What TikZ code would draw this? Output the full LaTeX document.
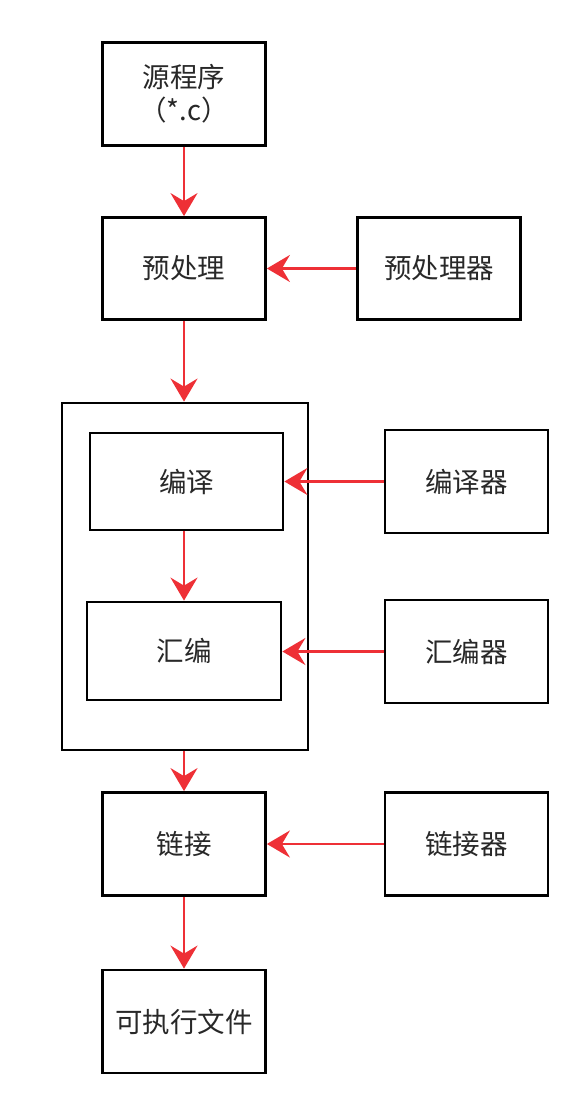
\documentclass[tikz,border=0pt]{standalone}
\usepackage{fontspec}
\setmainfont{Noto Sans CJK SC}
\usetikzlibrary{arrows.meta}
\definecolor{arrred}{RGB}{238,48,54}
\definecolor{txt}{RGB}{40,40,40}
\begin{document}
\begin{tikzpicture}[x=1pt,y=-1pt,
  box/.style={draw=black,line width=2.8pt,minimum width=#1,inner sep=0pt,align=center,text=txt,font=\fontsize{27.5}{33}\selectfont},
  box/.default=163pt,
  flow/.style={draw=arrred,line width=2.6pt,-{Stealth[length=23pt,width=27pt,inset=8pt]}}]
\useasboundingbox (0,0) rectangle (584,1095);
\node[box, minimum height=103pt] (src) at (184,94) {源程序\\（*.c）};
\node[box, minimum height=102pt] (pre) at (184,268.5) {预处理};
\node[box, minimum height=102pt] (prep) at (439,268.5) {预处理器};
\node[box=246pt, minimum height=347pt] (cont) at (185,576.5) {};
\node[box=193pt, minimum height=97pt] (comp) at (186.5,481.5) {编译};
\node[box, minimum height=103pt] (compr) at (466.5,481.5) {编译器};
\node[box=194pt, minimum height=98pt] (asm) at (184,651) {汇编};
\node[box, minimum height=103pt] (asmr) at (466.5,651.5) {汇编器};
\node[box, minimum height=103pt] (link) at (184,844) {链接};
\node[box, minimum height=103pt] (linkr) at (466.5,844) {链接器};
\node[box, minimum height=103pt] (exe) at (184,1021.5) {可执行文件};
\draw[flow] (src.south) -- (pre.north);
\draw[flow] (pre.south) -- (pre.south |- cont.north);
\draw[flow] (comp.south -| asm.north) -- (asm.north);
\draw[flow] (link.north |- cont.south) -- (link.north);
\draw[flow] (link.south) -- (exe.north);
\draw[flow] (prep.west) -- (pre.east);
\draw[flow] (compr.west) -- (compr.west -| comp.east);
\draw[flow] (asmr.west) -- (asmr.west -| asm.east);
\draw[flow] (linkr.west) -- (link.east);
\end{tikzpicture}
\end{document}
